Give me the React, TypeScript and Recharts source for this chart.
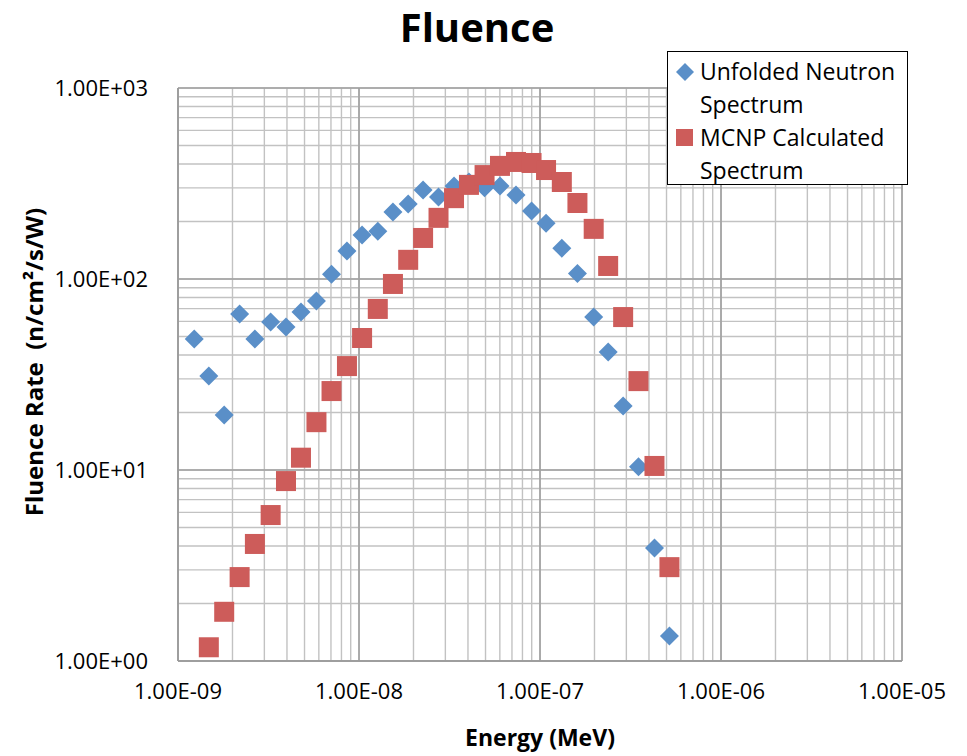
import React from 'react';
import {
    ScatterChart,
    Scatter,
    XAxis,
    YAxis,
    CartesianGrid,
    ReferenceLine,
} from 'recharts';

// energies (MeV) shared by both series
const energy = [
    1.23e-9, 1.48e-9, 1.8e-9, 2.19e-9, 2.66e-9, 3.25e-9, 3.95e-9, 4.78e-9,
    5.82e-9, 7.05e-9, 8.58e-9, 1.04e-8, 1.27e-8, 1.54e-8, 1.87e-8, 2.26e-8,
    2.75e-8, 3.35e-8, 4.05e-8, 4.94e-8, 6.01e-8, 7.37e-8, 8.98e-8, 1.08e-7,
    1.32e-7, 1.61e-7, 1.98e-7, 2.38e-7, 2.88e-7, 3.5e-7, 4.29e-7, 5.19e-7,
];

const unfolded = [
    48.5, 31.1, 19.4, 65.6, 48.5, 59.6, 56.1, 67.2, 76.7, 106, 140, 170, 178,
    224, 247, 292, 269, 307, 322, 300, 307, 275, 227, 196, 145, 107, 63.2,
    41.5, 21.6, 10.4, 3.91, 1.35,
];

// MCNP series starts at the second energy
const mcnp = [
    1.18, 1.81, 2.75, 4.1, 5.81, 8.75, 11.6, 17.8, 25.9, 35.0, 49.1, 69.7,
    94.2, 126, 164, 209, 265, 311, 350, 391, 410, 405, 372, 322, 250, 183,
    117, 63.2, 29.2, 10.5, 3.1,
];

const xDecades = [1e-9, 1e-8, 1e-7, 1e-6, 1e-5];
const xTickLabels = ['1.00E-09', '1.00E-08', '1.00E-07', '1.00E-06', '1.00E-05'];
const yDecades = [1, 10, 100, 1000];
const yTickLabels = ['1.00E+00', '1.00E+01', '1.00E+02', '1.00E+03'];

const minorTicks = (decades: number[]) => {
    const out: number[] = [];
    decades.forEach((d, i) => {
        if (i === decades.length - 1) {
            out.push(d);
            return;
        }
        for (let m = 1; m <= 9; m++) out.push(m * d);
    });
    return out;
};

const xTicks = minorTicks(xDecades);
const yTicks = minorTicks(yDecades);

const labelFor = (decades: number[], labels: string[]) => (v: number) => {
    const i = decades.findIndex((d) => Math.abs(d - v) / d < 1e-6);
    return i >= 0 ? labels[i] : '';
};

const blueData = unfolded.map((y, i) => ({ x: energy[i], y }));
const redData = mcnp.map((y, i) => ({ x: energy[i + 1], y }));

const BLUE = '#5a8fc8';
const RED = '#cd5c5a';
const FONT = '"Open Sans", sans-serif';

const Diamond = (props: any) => {
    const { cx, cy } = props;
    const r = 9.5;
    return (
        <polygon
            points={`${cx},${cy - r} ${cx + r},${cy} ${cx},${cy + r} ${cx - r},${cy}`}
            fill={BLUE}
        />
    );
};

const Square = (props: any) => {
    const { cx, cy } = props;
    const s = 20;
    return <rect x={cx - s / 2} y={cy - s / 2} width={s} height={s} fill={RED} />;
};

export default function App() {
    return (
        <div style={{ position: 'absolute', left: 0, top: 0, width: 967, height: 756, background: '#fff' }}>
            <ScatterChart width={967} height={756} margin={{ top: 88, right: 65, bottom: 0, left: 0 }}>
                <CartesianGrid stroke="#c2c2c2" strokeWidth={1.4} />
                {xDecades.map((d) => (
                    <ReferenceLine key={'xv' + d} x={d} stroke="#a0a0a0" strokeWidth={1.6} />
                ))}
                {yDecades.map((d) => (
                    <ReferenceLine key={'yh' + d} y={d} stroke="#a0a0a0" strokeWidth={1.6} />
                ))}
                <XAxis
                    type="number"
                    dataKey="x"
                    scale="log"
                    domain={[1e-9, 1e-5]}
                    ticks={xTicks}
                    interval={0}
                    allowDataOverflow
                    tickFormatter={labelFor(xDecades, xTickLabels)}
                    tick={{ fill: '#000', fontSize: 22, fontFamily: FONT, dy: 14 }}
                    tickLine={false}
                    axisLine={{ stroke: '#9a9a9a', strokeWidth: 1.5 }}
                    height={95}
                />
                <YAxis
                    type="number"
                    dataKey="y"
                    scale="log"
                    domain={[1, 1000]}
                    ticks={yTicks}
                    interval={0}
                    allowDataOverflow
                    tickFormatter={labelFor(yDecades, yTickLabels)}
                    tick={{ fill: '#000', fontSize: 22, fontFamily: FONT, dx: -22 }}
                    tickLine={false}
                    axisLine={{ stroke: '#9a9a9a', strokeWidth: 1.5 }}
                    width={178}
                />
                <Scatter data={blueData} shape={<Diamond />} isAnimationActive={false} />
                <Scatter data={redData} shape={<Square />} isAnimationActive={false} />
            </ScatterChart>

            <div
                style={{
                    position: 'absolute',
                    left: 277,
                    width: 400,
                    top: 2,
                    textAlign: 'center',
                    fontFamily: FONT,
                    fontWeight: 700,
                    fontSize: 40,
                    lineHeight: '50px',
                }}
            >
                Fluence
            </div>

            <div
                style={{
                    position: 'absolute',
                    left: 340,
                    width: 400,
                    top: 722,
                    textAlign: 'center',
                    fontFamily: FONT,
                    fontWeight: 700,
                    fontSize: 23,
                    lineHeight: '30px',
                }}
            >
                Energy (MeV)
            </div>

            <div
                style={{
                    position: 'absolute',
                    left: 34 - 200,
                    top: 362 - 15,
                    width: 400,
                    height: 30,
                    lineHeight: '30px',
                    textAlign: 'center',
                    transform: 'rotate(-90deg)',
                    fontFamily: FONT,
                    fontWeight: 700,
                    fontSize: 24,
                    whiteSpace: 'pre',
                }}
            >
                {'Fluence Rate  (n/cm²/s/W)'}
            </div>

            <div
                style={{
                    position: 'absolute',
                    left: 667,
                    top: 51,
                    width: 239,
                    height: 132,
                    border: '1px solid #000',
                    background: '#fff',
                    fontFamily: FONT,
                    fontSize: 23,
                    lineHeight: '33px',
                    color: '#000',
                }}
            >
                <svg width={20} height={20} style={{ position: 'absolute', left: 7, top: 10 }}>
                    <polygon points="10,1 19,10 10,19 1,10" fill={BLUE} />
                </svg>
                <svg width={20} height={20} style={{ position: 'absolute', left: 7, top: 76 }}>
                    <rect x={1} y={1} width={17} height={17} fill={RED} />
                </svg>
                <div style={{ position: 'absolute', left: 32, top: 3, whiteSpace: 'nowrap' }}>
                    Unfolded Neutron
                    <br />
                    Spectrum
                    <br />
                    MCNP Calculated
                    <br />
                    Spectrum
                </div>
            </div>
        </div>
    );
}
